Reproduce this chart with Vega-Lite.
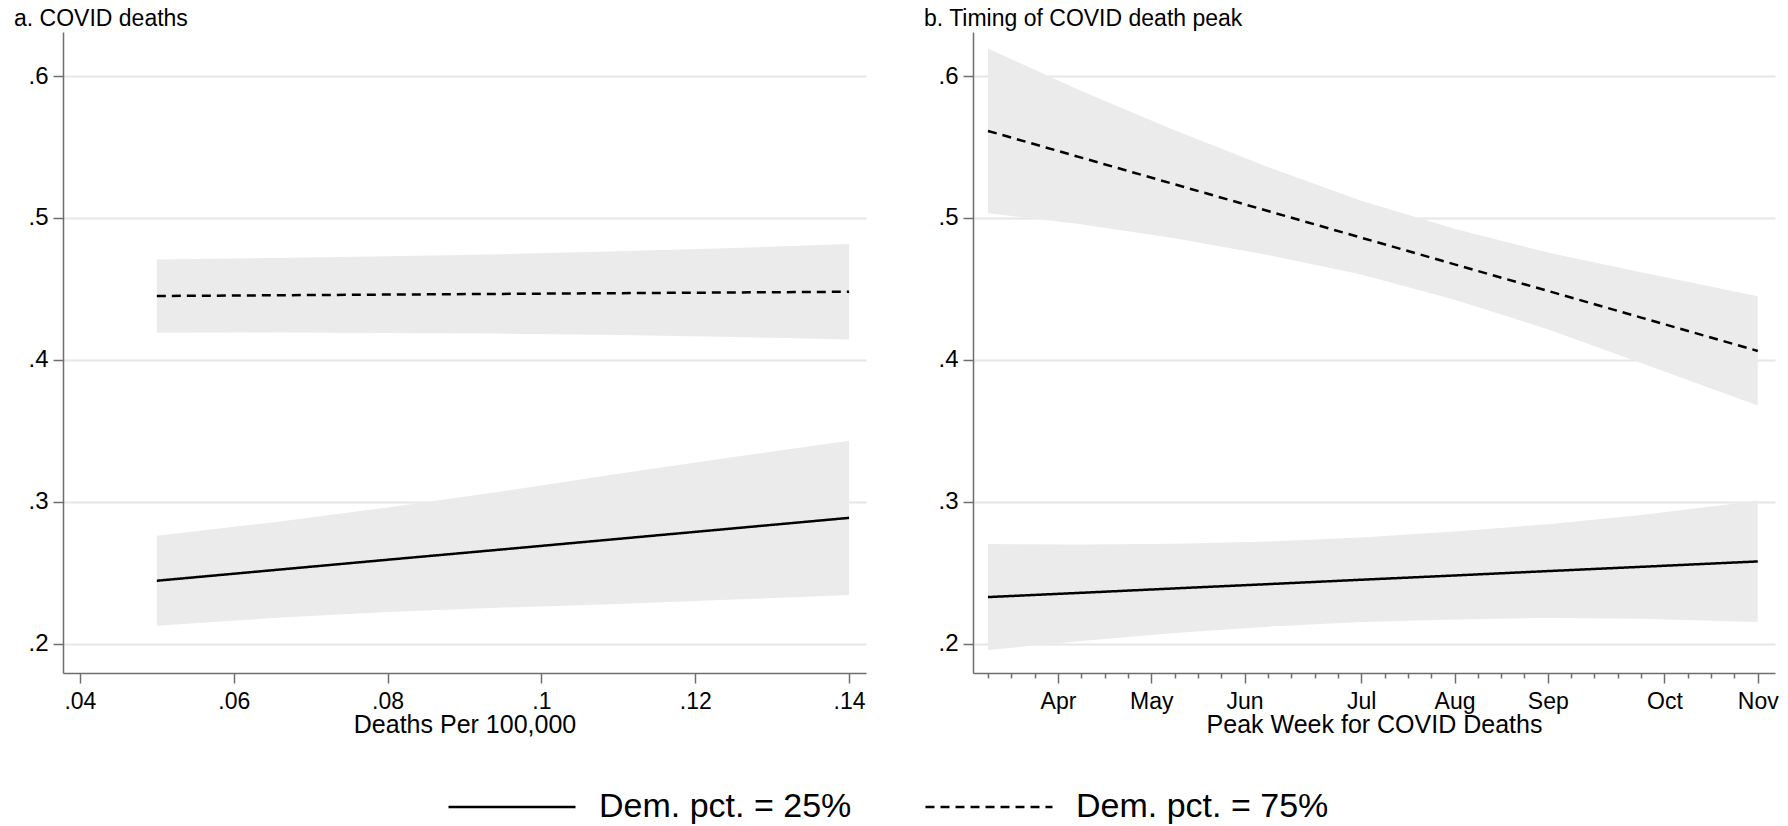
{
  "$schema": "https://vega.github.io/schema/vega-lite/v6.json",
  "padding": {"left": 14, "top": 8, "right": 0, "bottom": 0},
  "spacing": 58,
  "datasets": {
    "a": [
      {"x": 0.05, "series": "Dem. pct. = 25%", "c": 0.2444, "lo": 0.2127, "hi": 0.2761},
      {"x": 0.065, "series": "Dem. pct. = 25%", "c": 0.2518, "lo": 0.2181, "hi": 0.2855},
      {"x": 0.08, "series": "Dem. pct. = 25%", "c": 0.2592, "lo": 0.2224, "hi": 0.2960},
      {"x": 0.095, "series": "Dem. pct. = 25%", "c": 0.2665, "lo": 0.2255, "hi": 0.3075},
      {"x": 0.11, "series": "Dem. pct. = 25%", "c": 0.2739, "lo": 0.2281, "hi": 0.3197},
      {"x": 0.125, "series": "Dem. pct. = 25%", "c": 0.2813, "lo": 0.2311, "hi": 0.3315},
      {"x": 0.14, "series": "Dem. pct. = 25%", "c": 0.2887, "lo": 0.2343, "hi": 0.3431},
      {"x": 0.05, "series": "Dem. pct. = 75%", "c": 0.445, "lo": 0.4192, "hi": 0.4708},
      {"x": 0.065, "series": "Dem. pct. = 75%", "c": 0.4455, "lo": 0.4193, "hi": 0.4717},
      {"x": 0.08, "series": "Dem. pct. = 75%", "c": 0.446, "lo": 0.4190, "hi": 0.4730},
      {"x": 0.095, "series": "Dem. pct. = 75%", "c": 0.4465, "lo": 0.4185, "hi": 0.4745},
      {"x": 0.11, "series": "Dem. pct. = 75%", "c": 0.447, "lo": 0.4175, "hi": 0.4765},
      {"x": 0.125, "series": "Dem. pct. = 75%", "c": 0.4475, "lo": 0.4161, "hi": 0.4789},
      {"x": 0.14, "series": "Dem. pct. = 75%", "c": 0.448, "lo": 0.4144, "hi": 0.4816}
    ],
    "b": [
      {"week": 11, "series": "Dem. pct. = 25%", "c": 0.2329, "lo": 0.1956, "hi": 0.2702},
      {"week": 15, "series": "Dem. pct. = 25%", "c": 0.2359, "lo": 0.2019, "hi": 0.2699},
      {"week": 19, "series": "Dem. pct. = 25%", "c": 0.2390, "lo": 0.2075, "hi": 0.2705},
      {"week": 23, "series": "Dem. pct. = 25%", "c": 0.2420, "lo": 0.2120, "hi": 0.2720},
      {"week": 27, "series": "Dem. pct. = 25%", "c": 0.2451, "lo": 0.2154, "hi": 0.2748},
      {"week": 31, "series": "Dem. pct. = 25%", "c": 0.2481, "lo": 0.2171, "hi": 0.2791},
      {"week": 35, "series": "Dem. pct. = 25%", "c": 0.2512, "lo": 0.2182, "hi": 0.2842},
      {"week": 39, "series": "Dem. pct. = 25%", "c": 0.2542, "lo": 0.2177, "hi": 0.2907},
      {"week": 44, "series": "Dem. pct. = 25%", "c": 0.2580, "lo": 0.2153, "hi": 0.3007},
      {"week": 11, "series": "Dem. pct. = 75%", "c": 0.5613, "lo": 0.5033, "hi": 0.6193},
      {"week": 15, "series": "Dem. pct. = 75%", "c": 0.5425, "lo": 0.4955, "hi": 0.5895},
      {"week": 19, "series": "Dem. pct. = 75%", "c": 0.5237, "lo": 0.4857, "hi": 0.5617},
      {"week": 23, "series": "Dem. pct. = 75%", "c": 0.5049, "lo": 0.4739, "hi": 0.5359},
      {"week": 27, "series": "Dem. pct. = 75%", "c": 0.4861, "lo": 0.4601, "hi": 0.5121},
      {"week": 31, "series": "Dem. pct. = 75%", "c": 0.4673, "lo": 0.4423, "hi": 0.4923},
      {"week": 35, "series": "Dem. pct. = 75%", "c": 0.4486, "lo": 0.4216, "hi": 0.4756},
      {"week": 39, "series": "Dem. pct. = 75%", "c": 0.4298, "lo": 0.3978, "hi": 0.4618},
      {"week": 44, "series": "Dem. pct. = 75%", "c": 0.4063, "lo": 0.3678, "hi": 0.4448}
    ]
  },
  "hconcat": [
    {
      "width": 803,
      "height": 641,
      "title": {"text": "a. COVID deaths", "anchor": "start", "frame": "group", "dx": -49, "offset": -17, "baseline": "alphabetic"},
      "data": {"name": "a"},
      "layer": [
        {
          "mark": {"type": "area", "color": "#EBEBEB", "opacity": 1},
          "encoding": {
            "x": {"field": "x", "type": "quantitative", "scale": {"domain": [0.0378, 0.1422], "nice": false, "zero": false},
                  "axis": {"title": "Deaths Per 100,000", "values": [0.04, 0.06, 0.08, 0.1, 0.12, 0.14], "grid": false,
                           "labelExpr": "replace(format(datum.value, '~g'), '0.', '.')"}},
            "y": {"field": "lo", "type": "quantitative", "scale": {"domain": [0.1794, 0.631], "nice": false, "zero": false},
                  "axis": {"title": null, "values": [0.2, 0.3, 0.4, 0.5, 0.6], "grid": true,
                           "labelExpr": "replace(format(datum.value, '.1f'), '0.', '.')"}},
            "y2": {"field": "hi"},
            "detail": {"field": "series"}
          }
        },
        {
          "mark": {"type": "line", "color": "black", "strokeWidth": 2.5},
          "encoding": {
            "x": {"field": "x", "type": "quantitative"},
            "y": {"field": "c", "type": "quantitative"},
            "strokeDash": {"field": "series", "type": "nominal",
                           "scale": {"domain": ["Dem. pct. = 25%", "Dem. pct. = 75%"], "range": [[1, 0], [9, 6]]},
                           "legend": {"orient": "none", "legendX": 384, "legendY": 710, "direction": "horizontal", "title": null}}
          }
        }
      ]
    },
    {
      "width": 802,
      "height": 641,
      "title": {"text": "b. Timing of COVID death peak", "anchor": "start", "frame": "group", "dx": -49, "offset": -17, "baseline": "alphabetic"},
      "data": {"name": "b"},
      "layer": [
        {
          "mark": {"type": "area", "color": "#EBEBEB", "opacity": 1},
          "encoding": {
            "x": {"field": "week", "type": "quantitative", "scale": {"domain": [10.357, 44.74], "nice": false, "zero": false},
                  "axis": {"title": "Peak Week for COVID Deaths",
                           "values": [11,12,13,14,15,16,17,18,19,20,21,22,23,24,25,26,27,28,29,30,31,32,33,34,35,36,37,38,39,40,41,42,43,44],
                           "tickCount": 60,
                           "grid": false, "labelOverlap": false,
                           "tickSize": {"condition": {"test": "indexof([14,18,22,27,31,35,40,44], datum.value) >= 0", "value": 10}, "value": 5},
                           "labelExpr": "datum.value == 14 ? 'Apr' : datum.value == 18 ? 'May' : datum.value == 22 ? 'Jun' : datum.value == 27 ? 'Jul' : datum.value == 31 ? 'Aug' : datum.value == 35 ? 'Sep' : datum.value == 40 ? 'Oct' : datum.value == 44 ? 'Nov' : ''"}},
            "y": {"field": "lo", "type": "quantitative", "scale": {"domain": [0.1794, 0.631], "nice": false, "zero": false},
                  "axis": {"title": null, "values": [0.2, 0.3, 0.4, 0.5, 0.6], "grid": true,
                           "labelExpr": "replace(format(datum.value, '.1f'), '0.', '.')"}},
            "y2": {"field": "hi"},
            "detail": {"field": "series"}
          }
        },
        {
          "mark": {"type": "line", "color": "black", "strokeWidth": 2.5},
          "encoding": {
            "x": {"field": "week", "type": "quantitative"},
            "y": {"field": "c", "type": "quantitative"},
            "strokeDash": {"field": "series", "type": "nominal",
                           "scale": {"domain": ["Dem. pct. = 25%", "Dem. pct. = 75%"], "range": [[1, 0], [9, 6]]}}
          }
        }
      ]
    }
  ],
  "config": {
    "font": "Liberation Sans",
    "view": {"stroke": null},
    "background": "white",
    "title": {"fontSize": 23, "fontWeight": "normal", "color": "black", "font": "Liberation Sans"},
    "axis": {
      "domainColor": "#6E6E6E", "domainWidth": 1.5, "tickColor": "#6E6E6E", "tickWidth": 1.5, "tickSize": 10,
      "labelColor": "black", "labelFontSize": 24, "labelFont": "Liberation Sans",
      "titleFontSize": 25, "titleFontWeight": "normal", "titleColor": "black", "titleFont": "Liberation Sans",
      "gridColor": "#E6E6E6", "gridWidth": 2, "labelFlush": false, "labelPadding": 5
    },
    "axisX": {"labelFontSize": 23, "labelPadding": 7, "titleBaseline": "alphabetic", "titleY": 59},
    "legend": {
      "symbolType": "stroke", "symbolSize": 16129, "symbolStrokeWidth": 2.5, "symbolStrokeColor": "black",
      "labelFontSize": 34, "labelFont": "Liberation Sans", "labelColor": "black", "labelOffset": 22,
      "columnPadding": 68, "labelLimit": 400
    }
  }
}
